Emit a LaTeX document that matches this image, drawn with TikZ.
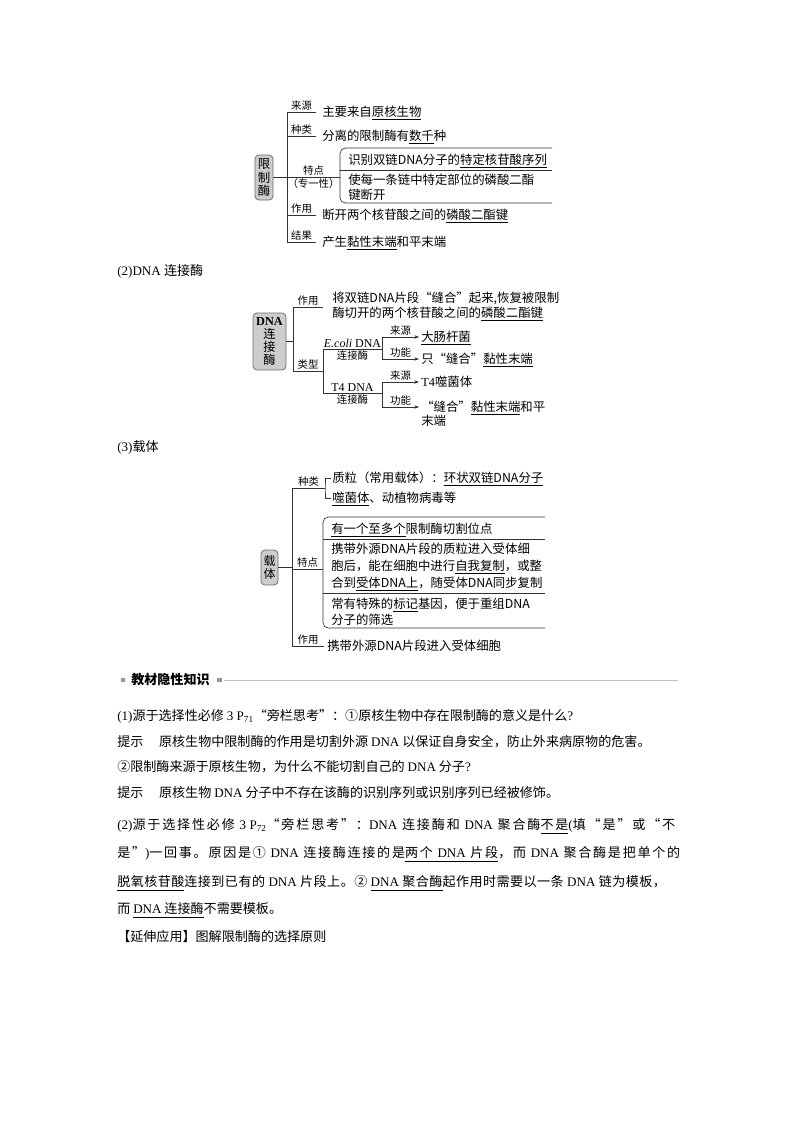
\documentclass[tikz,border=0pt]{standalone}
\usepackage{fontspec}
\setmainfont{Noto Sans CJK SC}
\newfontfamily\lat{Liberation Serif}
\usetikzlibrary{arrows.meta, positioning}
\definecolor{boxfill}{RGB}{205, 205, 205}
\definecolor{boxdraw}{RGB}{110, 110, 110}
\definecolor{linecolor}{RGB}{50, 50, 50}
\definecolor{rulegray}{RGB}{195, 195, 195}
\definecolor{markgray}{RGB}{150, 150, 150}
\newcommand{\bodysize}{\fontsize{9.8pt}{12pt}\selectfont}
\newcommand{\mapsize}{\fontsize{9.3pt}{11pt}\selectfont}
\newcommand{\tagsize}{\fontsize{7.8pt}{9pt}\selectfont}
\newcommand{\udl}[1]{\underline{#1}}
\newcommand{\dna}{{\lat DNA}}
\newcommand{\spread}[1]{\addfontfeatures{LetterSpace=#1}}

\begin{document}
\begin{tikzpicture}[
    x=0.75pt, y=-0.75pt,
    >={Stealth[length=3.5pt, width=2.6pt]},
    root/.style={rectangle, rounded corners=3pt, draw=boxdraw, fill=boxfill, line width=0.6pt, align=center, inner sep=0pt},
    conn/.style={draw=linecolor, line width=0.5pt},
    arrow/.style={conn, ->},
    tag/.style={inner sep=0.7pt, font=\tagsize},
    leaf/.style={anchor=west, inner sep=0pt, font=\mapsize, text height=8.2pt, text depth=1.1pt},
    body/.style={anchor=west, inner sep=0pt, font=\bodysize, text height=8.6pt, text depth=1.2pt},
    sqmark/.style={fill=markgray, minimum size=3.6pt, inner sep=0pt}
]
\fill[white] (0, 0) rectangle (800, 1132);

% === (1) Restriction enzyme ===
\node[root, minimum width=13.5pt, minimum height=33.75pt, font=\fontsize{9.3pt}{10.2pt}\selectfont] (enz) at (264, 177.5) {限\\制\\酶};

\node[leaf] (enz_src) at (322, 112) {主要来自\udl{原核生物}};
\node[leaf] (enz_kind) at (322, 136) {分离的限制酶有\udl{数千}种};
\node[leaf] (enz_f1) at (348, 160) {识别双链DNA分子的\udl{特定核苷酸序列}};
\node[leaf] (enz_f2a) at (348, 180) {使每一条链中特定部位的磷酸二酯};
\node[leaf] (enz_f2b) at (348, 195) {键断开};
\node[leaf] (enz_use) at (322, 215) {断开两个核苷酸之间的\udl{磷酸二酯键}};
\node[leaf] (enz_res) at (322, 242) {产生\udl{黏性末端}和平末端};

\coordinate (enz_top) at (287, 112);
\coordinate (enz_brk) at (340, 177);
\draw[conn] (enz_top) -- (enz_top |- enz_res.west);
\draw[conn] (enz.east) -- (enz.east -| enz_top);
\draw[conn] (enz_top) -- ([xshift=-4.5pt]enz_src.west) node[midway, above, tag] (enz_src_t) {来源};
\draw[conn] (enz_top |- enz_kind.west) -- ([xshift=-4.5pt]enz_kind.west) node[midway, above, tag] (enz_kind_t) {种类};
\draw[conn] (enz_top |- enz_brk) -- (enz_brk) node[midway, above, tag] (enz_feat_t) {特点} node[midway, below, tag] (enz_feat_b) {（专一性）};
\draw[conn] (enz_top |- enz_use.west) -- ([xshift=-4.5pt]enz_use.west) node[midway, above, tag] (enz_use_t) {作用};
\draw[conn] (enz_top |- enz_res.west) -- ([xshift=-4.5pt]enz_res.west) node[midway, above, tag] (enz_res_t) {结果};

% feature bracket
\draw[conn, rounded corners=4pt] (552, 148) -- (340, 148) -- (340, 203) -- (552, 203);
\draw[conn] (340, 170) -- (552, 170);

% === (2) DNA ligase ===
\node[body] (lig_head) at (117, 271) {{\lat (2)DNA }连接酶};
\node[root, minimum width=24.75pt, minimum height=42.75pt, font=\fontsize{9.2pt}{9.6pt}\selectfont] (lig) at (269.5, 341.5) {{\lat\bfseries DNA}\\连\\接\\酶};

\node[leaf] (lig_use1) at (332, 298) {将双链DNA片段“缝合”起来,恢复被限制};
\node[leaf] (lig_use2) at (332, 313) {酶切开的两个核苷酸之间的\udl{磷酸二酯键}};
\node[leaf] (lig_e_src) at (421, 337) {\udl{大肠杆菌}};
\node[leaf] (lig_e_fn) at (421, 359) {只“缝合”\udl{黏性末端}};
\node[leaf] (lig_t_src) at (421, 382) {{\lat T4}噬菌体};
\node[leaf] (lig_t_fn1) at (421, 407) {“缝合”\udl{黏性末端}和平};
\node[leaf] (lig_t_fn2) at (421, 421) {末端};

\coordinate (lig_top) at (293, 307);
\coordinate (lig_use) at (323, 307);
\coordinate (lig_type) at (323, 371);
\coordinate (lig_e) at (382, 349);
\coordinate (lig_t) at (382, 393);
\draw[conn] (lig_top) -- (lig_top |- lig_type);
\draw[conn] (lig.east) -- (lig.east -| lig_top);
\draw[conn] (lig_top) -- (lig_use) node[midway, above, tag] (lig_use_t) {作用};
\draw[conn] (lig_top |- lig_type) -- (lig_type) node[midway, above, tag] (lig_type_t) {类型};
\draw[conn] (lig_type |- lig_e) -- (lig_type |- lig_t);
\draw[conn] (lig_type |- lig_e) -- (lig_e)
    node[midway, above, tag, font=\fontsize{9pt}{10pt}\selectfont\lat] (lig_e_t) {\textit{E.coli} DNA}
    node[midway, below, tag] (lig_e_b) {连接酶};
\draw[conn] (lig_type |- lig_t) -- (lig_t)
    node[midway, above, tag, font=\fontsize{9pt}{10pt}\selectfont\lat] (lig_t_t) {T4 DNA}
    node[midway, below, tag] (lig_t_b) {连接酶};
\draw[conn] (lig_e |- lig_e_src.west) -- (lig_e |- lig_e_fn.west);
\draw[arrow] (lig_e |- lig_e_src.west) -- ([xshift=-1.5pt]lig_e_src.west) node[midway, above, tag] (lig_e_src_t) {来源};
\draw[arrow] (lig_e |- lig_e_fn.west) -- ([xshift=-1.5pt]lig_e_fn.west) node[midway, above, tag] (lig_e_fn_t) {功能};
\draw[conn] (lig_t |- lig_t_src.west) -- (lig_t |- lig_t_fn1.west);
\draw[arrow] (lig_t |- lig_t_src.west) -- ([xshift=-1.5pt]lig_t_src.west) node[midway, above, tag] (lig_t_src_t) {来源};
\draw[arrow] (lig_t |- lig_t_fn1.west) -- ([xshift=-1.5pt]lig_t_fn1.west) node[midway, above, tag] (lig_t_fn_t) {功能};

% === (3) Vector ===
\node[body] (vec_head) at (117, 447) {{\lat (3)}载体};
\node[root, minimum width=12.75pt, minimum height=26.25pt, font=\fontsize{9pt}{9.4pt}\selectfont] (vec) at (269.5, 567.5) {载\\体};

\node[leaf] (vec_k1) at (332, 478) {质粒（常用载体）：\udl{环状双链DNA分子}};
\node[leaf] (vec_k2) at (332, 498) {\udl{噬菌体}、动植物病毒等};
\node[leaf] (vec_f1) at (331, 529) {\udl{有一个至多个}限制酶切割位点};
\node[leaf] (vec_f2a) at (331, 549) {携带外源DNA片段的质粒进入受体细};
\node[leaf] (vec_f2b) at (331, 566) {胞后，能在细胞中进行\udl{自我复制}，或整};
\node[leaf] (vec_f2c) at (331, 583) {合到\udl{受体DNA上}，随受体DNA同步复制};
\node[leaf] (vec_f3a) at (331, 604) {常有特殊的\udl{标记}基因，便于重组DNA};
\node[leaf] (vec_f3b) at (331, 620) {分子的筛选};
\node[leaf] (vec_use) at (327, 646) {携带外源DNA片段进入受体细胞};

\coordinate (vec_top) at (292, 488);
\coordinate (vec_kind) at (325, 488);
\coordinate (vec_brk) at (323, 569);
\draw[conn] (vec_top) -- (vec_top |- vec_use.west);
\draw[conn] (vec.east) -- (vec.east -| vec_top);
\draw[conn] (vec_top) -- (vec_kind) node[midway, above, tag] (vec_kind_t) {种类};
\draw[conn] ([xshift=-0.75pt]vec_k1.west) -| (vec_kind) |- ([xshift=-0.75pt]vec_k2.west);
\draw[conn] (vec_top |- vec_brk) -- (vec_brk) node[midway, above, tag] (vec_feat_t) {特点};
\draw[conn] (vec_top |- vec_use.west) -- ([xshift=-2.25pt]vec_use.west) node[midway, above, tag] (vec_use_t) {作用};

% feature bracket
\draw[conn, rounded corners=4pt] (545, 517) -- (323, 517) -- (323, 628) -- (545, 628);
\draw[conn] (323, 539) -- (545, 539);
\draw[conn] (323, 593) -- (545, 593);

% === Hidden knowledge ===
\node[sqmark] (mk1) at (123, 680) {};
\node[body, font=\bodysize\bfseries, right=4pt of mk1] (hk_head) {教材隐性知识};
\node[sqmark, right=5pt of hk_head] (mk2) {};
\coordinate (rule_end) at (678, 680);
\draw[rulegray, line width=0.6pt] ([xshift=1.5pt]mk2.east) -- (rule_end);

\node[body] (q1) at (117, 716) {{\lat (1)}源于选择性必修 {\lat 3 P\textsubscript{71}}“旁栏思考”：①原核生物中存在限制酶的意义是什么{\lat ?}};
\node[body] (a1) at (117, 742) {提示\hspace{1.2em}原核生物中限制酶的作用是切割外源 \dna{} 以保证自身安全，防止外来病原物的危害。};
\node[body] (q2) at (117, 767) {②限制酶来源于原核生物，为什么不能切割自己的 \dna{} 分子{\lat ?}};
\node[body] (a2) at (117, 793) {提示\hspace{1.2em}原核生物 \dna{} 分子中不存在该酶的识别序列或识别序列已经被修饰。};
\node[body] (q3) at (117, 825) {\spread{14}{\lat (2)}源于选择性必修 {\lat 3 P\textsubscript{72}}“旁栏思考”：\dna{} 连接酶和 \dna{} 聚合酶\udl{不是}{\lat (}填“是”或“不};
\node[body] (a3a) at (117, 853) {\spread{13}是”{\lat )}一回事。原因是① \dna{} 连接酶连接的是\udl{两个 \dna{} 片段}，而 \dna{} 聚合酶是把单个的};
\node[body] (a3b) at (117, 882) {\spread{3.5}\udl{脱氧核苷酸}连接到已有的 \dna{} 片段上。② \udl{\dna{} 聚合酶}起作用时需要以一条 \dna{} 链为模板，};
\node[body] (a3c) at (117, 909) {而 \udl{\dna{} 连接酶}不需要模板。};
\node[body] (ext) at (117, 937) {【延伸应用】图解限制酶的选择原则};

\end{tikzpicture}
\end{document}
